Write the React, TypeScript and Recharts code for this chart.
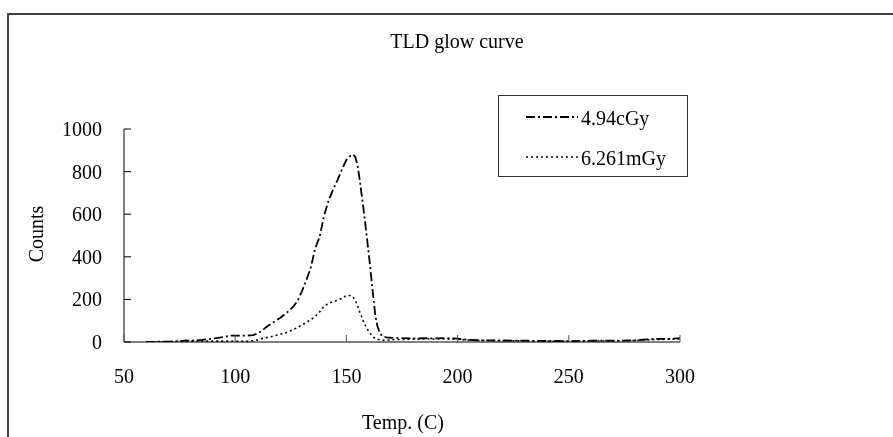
import React from 'react';
import { LineChart, Line, XAxis, YAxis, Legend } from 'recharts';

// temperature (C) of each reading
const temps = [
  60, 65, 70, 75, 78, 80, 85, 90, 95, 98, 100, 105, 108, 110, 112, 114, 116, 118, 120, 122,
  124, 126, 128, 130, 132, 134, 136, 138, 140, 142, 144, 146, 148, 150, 152, 153, 154, 155,
  156, 157, 158, 159, 160, 161, 162, 163, 164, 165, 166, 168, 170, 175, 180, 185, 190, 195,
  200, 205, 210, 220, 230, 240, 250, 255, 260, 270, 280, 285, 290, 295, 300,
];

// counts, 4.94cGy
const counts494cGy = [
  0, 1, 2, 4, 8, 6, 10, 16, 24, 30, 30, 30, 32, 40, 52, 70, 84, 98, 112, 128,
  145, 165, 192, 238, 290, 350, 440, 495, 595, 665, 715, 760, 810, 855, 876, 880, 868, 830,
  760, 680, 600, 510, 420, 320, 220, 125, 72, 45, 28, 22, 20, 18, 17, 18, 17, 18,
  16, 10, 8, 7, 6, 5, 4, 5, 6, 6, 8, 12, 15, 14, 18,
];

// counts, 6.261mGy
const counts6261mGy = [
  0, 0, 1, 3, 4, 4, 4, 4, 4, 4, 3, 3, 6, 10, 16, 20, 25, 30, 36, 40,
  48, 58, 68, 80, 92, 105, 120, 142, 168, 182, 190, 196, 205, 218, 218, 210, 195, 170,
  140, 115, 88, 68, 50, 36, 24, 16, 12, 10, 9, 8, 10, 12, 13, 14, 14, 14,
  13, 9, 7, 6, 5, 4, 3, 4, 5, 5, 7, 10, 12, 13, 15,
];

const seriesNames = ['4.94cGy', '6.261mGy'];
const xTicks = [50, 100, 150, 200, 250, 300];
const yTicks = [0, 200, 400, 600, 800, 1000];

const FONT = "'Liberation Serif', 'Times New Roman', serif";
const DASH_HIGH = '9 3 2 3';
const DASH_LOW = '2 3';

const data = temps.map((t, i) => ({ t, high: counts494cGy[i], low: counts6261mGy[i] }));

// ticks point into the plot, so draw the tick line ourselves
const YTick = (props: any) => {
  const { x, y, payload } = props;
  return (
    <g>
      <line x1={x} x2={x + 7} y1={y} y2={y} stroke="#000" />
      <text x={x - 22} y={y + 7} textAnchor="end" fontFamily={FONT} fontSize={20} fill="#000">
        {payload.value}
      </text>
    </g>
  );
};

const XTick = (props: any) => {
  const { x, y, payload } = props;
  return (
    <g>
      <line x1={x} x2={x} y1={y} y2={y - 7} stroke="#555" />
      <text x={x} y={y + 41} textAnchor="middle" fontFamily={FONT} fontSize={20} fill="#000">
        {payload.value}
      </text>
    </g>
  );
};

const LegendBox = () => {
  const dashes = [DASH_HIGH, DASH_LOW];
  return (
    <div
      style={{
        width: 190,
        height: 82,
        border: '1px solid #333',
        boxSizing: 'border-box',
        position: 'relative',
        background: '#fff',
        fontFamily: FONT,
        fontSize: 20,
        color: '#000',
      }}
    >
      {seriesNames.map((name, i) => (
        <React.Fragment key={name}>
          <svg
            width={52}
            height={4}
            style={{ position: 'absolute', left: 27, top: 19 + i * 40 }}
          >
            <line x1={0} x2={52} y1={2} y2={2} stroke="#000" strokeWidth={i === 0 ? 2 : 1.6} strokeDasharray={dashes[i]} />
          </svg>
          <span
            style={{ position: 'absolute', left: 82, top: 12 + i * 40, lineHeight: '20px', whiteSpace: 'nowrap' }}
          >
            {name}
          </span>
        </React.Fragment>
      ))}
    </div>
  );
};

const App = () => {
  return (
    <div style={{ position: 'relative', width: 877, height: 429, fontFamily: FONT, color: '#000' }}>
      <style>{'html, body { overflow: hidden; }'}</style>
      <div
        style={{
          position: 'fixed',
          left: 7,
          top: 13,
          width: 1000,
          height: 1000,
          borderTop: '2px solid #404040',
          borderLeft: '2px solid #404040',
          pointerEvents: 'none',
        }}
      />
      <LineChart width={877} height={429} data={data} margin={{ top: 121, right: 205, left: 0, bottom: 0 }}>
        <XAxis
          dataKey="t"
          type="number"
          domain={[50, 300]}
          ticks={xTicks}
          allowDataOverflow
          height={95}
          stroke="#000"
          tickSize={0}
          tickMargin={0}
          tickLine={false}
          tick={<XTick />}
          interval={0}
        />
        <YAxis
          type="number"
          domain={[0, 1000]}
          ticks={yTicks}
          allowDataOverflow
          width={116}
          stroke="#000"
          tickSize={0}
          tickMargin={0}
          tickLine={false}
          tick={<YTick />}
          interval={0}
        />
        <Legend
          layout="vertical"
          align="center"
          verticalAlign="middle"
          wrapperStyle={{ left: 490, top: 87, width: 190 }}
          content={() => <LegendBox />}
        />
        <Line
          type="linear"
          dataKey="high"
          name={seriesNames[0]}
          stroke="#000"
          strokeWidth={1.8}
          strokeDasharray={DASH_HIGH}
          dot={false}
          isAnimationActive={false}
        />
        <Line
          type="linear"
          dataKey="low"
          name={seriesNames[1]}
          stroke="#000"
          strokeWidth={1.6}
          strokeDasharray={DASH_LOW}
          dot={false}
          isAnimationActive={false}
        />
      </LineChart>
      <div
        style={{
          position: 'absolute',
          left: 449,
          top: 23,
          transform: 'translateX(-50%)',
          fontSize: 20,
          lineHeight: '20px',
          whiteSpace: 'nowrap',
        }}
      >
        TLD glow curve
      </div>
      <div
        style={{
          position: 'absolute',
          left: 28,
          top: 226,
          transform: 'translate(-50%, -50%) rotate(-90deg)',
          fontSize: 20,
          lineHeight: '20px',
          whiteSpace: 'nowrap',
        }}
      >
        Counts
      </div>
      <div
        style={{
          position: 'absolute',
          left: 395,
          top: 404,
          transform: 'translateX(-50%)',
          fontSize: 20,
          lineHeight: '20px',
          whiteSpace: 'nowrap',
        }}
      >
        Temp. (C)
      </div>
    </div>
  );
};

export default App;
